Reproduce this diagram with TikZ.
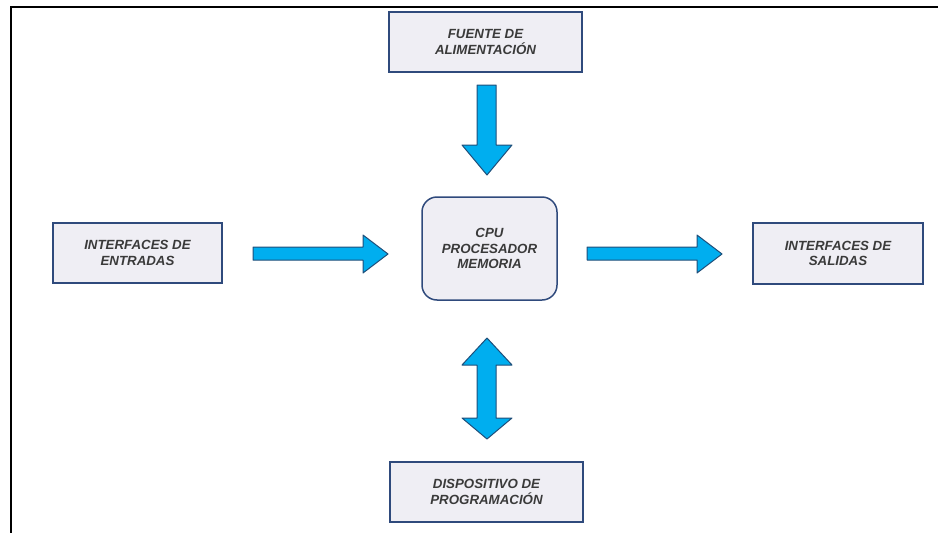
\documentclass[tikz,border=0pt]{standalone}
\usepackage{fontspec}
\setmainfont{Liberation Sans}
\definecolor{boxfill}{HTML}{EFEEF4}
\definecolor{boxline}{HTML}{2F4A7C}
\definecolor{arrfill}{HTML}{00AEEF}
\definecolor{arrline}{HTML}{1F4E79}
\definecolor{txt}{HTML}{3A3A3A}
\tikzset{
  blockbox/.style={draw=boxline, line width=1.3pt, fill=boxfill, inner sep=0pt,
    align=center, text=txt, font=\fontsize{13.3}{15.5}\selectfont\bfseries\itshape},
  blockarrow/.style={draw=arrline, line width=1pt, fill=arrfill, line join=round},
}
\begin{document}
\begin{tikzpicture}[x=1pt,y=-1pt]
\useasboundingbox (0,0) rectangle (938,533);
% frame
\draw[line width=2.5pt] (11,533) -- (11,7) -- (938,7);
% boxes
\node[blockbox, minimum width=193pt, minimum height=60pt] (fuente) at (485.5,42) {FUENTE DE\\ALIMENTACIÓN};
\node[blockbox, minimum width=169pt, minimum height=60pt] (entradas) at (137.5,253) {INTERFACES DE\\ENTRADAS};
\node[blockbox, line width=1.5pt, rounded corners=15pt, minimum width=135pt, minimum height=103pt] (cpu) at (489.5,248.5) {CPU\\PROCESADOR\\MEMORIA};
\node[blockbox, minimum width=170pt, minimum height=61pt] (salidas) at (838,253.5) {INTERFACES DE\\SALIDAS};
\node[blockbox, minimum width=193pt, minimum height=60pt] (prog) at (486.5,492) {DISPOSITIVO DE\\PROGRAMACIÓN};
% down arrow (fuente -> cpu)
\draw[blockarrow] (477,85) -- (496,85) -- (496,145) -- (512,145) -- (487,175) -- (462,145) -- (477,145) -- cycle;
% right arrow (entradas -> cpu)
\draw[blockarrow] (253,247) -- (363,247) -- (363,235) -- (388,254) -- (363,273) -- (363,260) -- (253,260) -- cycle;
% right arrow (cpu -> salidas)
\draw[blockarrow] (587,247) -- (697,247) -- (697,235) -- (722,254) -- (697,273) -- (697,260) -- (587,260) -- cycle;
% double arrow (cpu <-> prog)
\draw[blockarrow] (487,338) -- (512,365) -- (496,365) -- (496,418) -- (512,418) -- (487,439) -- (462,418) -- (477,418) -- (477,365) -- (462,365) -- cycle;
\end{tikzpicture}
\end{document}
